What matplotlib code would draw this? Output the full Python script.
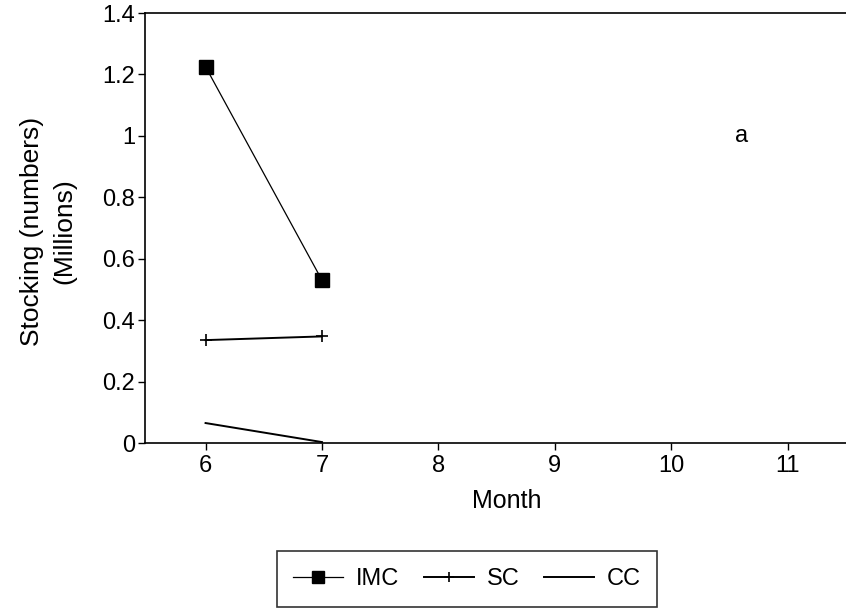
import matplotlib.pyplot as plt

plt.rcParams['font.family'] = ['Liberation Sans', 'DejaVu Sans']

months = [6, 7]
imc = [1.225, 0.53]
sc = [0.335, 0.347]
cc = [0.065, 0.003]
xticks = [6, 7, 8, 9, 10, 11]
yticks = [0, 0.2, 0.4, 0.6, 0.8, 1.0, 1.2, 1.4]
ytick_labels = ["0", "0.2", "0.4", "0.6", "0.8", "1", "1.2", "1.4"]

fig = plt.figure(figsize=(8.46, 6.10), dpi=100)
ax = fig.add_axes([145 / 846, 167 / 610, 701 / 846, 430 / 610])

ax.plot(months, imc, color="black", lw=0.9, marker="s", ms=10.5, label="IMC")
ax.plot(months, sc, color="black", lw=1.4, marker="+", ms=9, mew=1.2, label="SC")
ax.plot(months, cc, color="black", lw=1.4, label="CC")

ax.set_xlim(5.48, 11.5)
ax.set_ylim(0, 1.4)
ax.set_xticks(xticks)
ax.set_yticks(yticks)
ax.set_yticklabels(ytick_labels)
ax.tick_params(direction="out", length=5, width=1, labelsize=17)
ax.tick_params(axis="x", pad=4)
ax.tick_params(axis="y", pad=2)
ax.spines["right"].set_visible(False)
for s in ["left", "top", "bottom"]:
    ax.spines[s].set_linewidth(1.2)

ax.set_xlabel("Month", fontsize=18, labelpad=8)
ax.xaxis.label.set_x(0.516)
fig.text(48 / 846, 1 - 231 / 610, "Stocking (numbers)\n(Millions)", fontsize=19,
         rotation=90, ha="center", va="center", multialignment="center",
         linespacing=1.45)
ax.text(10.6, 1.0, "a", fontsize=17, ha="center", va="center")

leg = fig.legend(loc="center", bbox_to_anchor=(467 / 846, 1 - 579 / 610), ncol=3,
                 fontsize=17, frameon=True, fancybox=False, edgecolor="black",
                 handlelength=2.1, columnspacing=1.05, handletextpad=0.55,
                 borderpad=0.7, borderaxespad=0, markerscale=0.8)
leg.get_frame().set_linewidth(1.2)

fig.savefig("out.png", dpi=100)
